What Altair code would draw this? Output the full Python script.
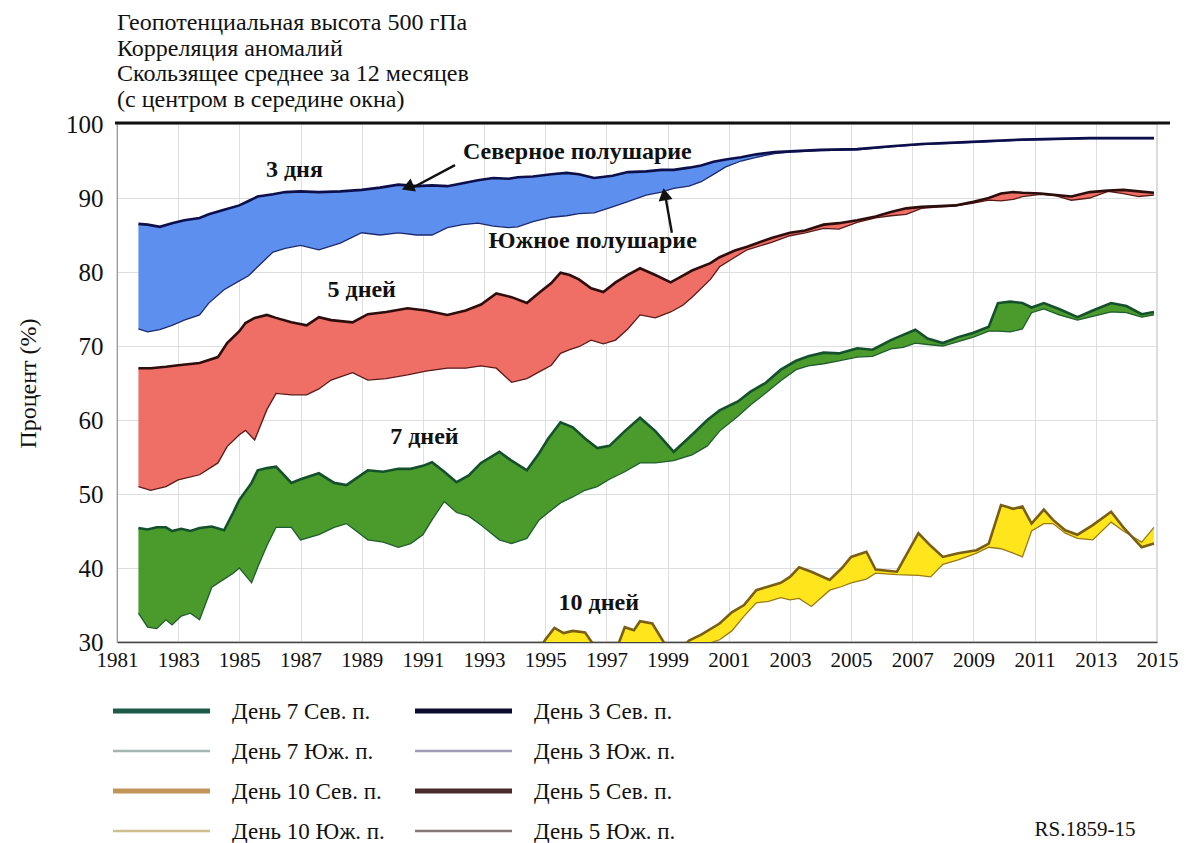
import altair as alt
import pandas as pd

# ---------------- data ----------------
years3 = [1981.7, 1982.0, 1982.4, 1982.8, 1983.2, 1983.7, 1984.0, 1984.5, 1985.0, 1985.3,
          1985.6, 1986.1, 1986.5, 1987.0, 1987.6, 1988.3, 1989.0, 1989.6, 1990.2, 1990.8,
          1991.3, 1991.8, 1992.3, 1992.8, 1993.3, 1993.8, 1994.1, 1994.6, 1995.2, 1995.7,
          1996.1, 1996.6, 1997.2, 1997.7, 1998.3, 1998.8, 1999.2, 1999.7, 2000.1, 2000.5,
          2000.9, 2001.4, 2001.9, 2002.5, 2003.0, 2004.0, 2005.2, 2006.3, 2007.3, 2008.4,
          2009.5, 2010.6, 2011.7, 2012.8, 2013.9, 2014.9]
nh3 = [86.5, 86.4, 86.1, 86.6, 87.0, 87.3, 87.8, 88.4, 89.0, 89.6,
       90.2, 90.5, 90.8, 90.9, 90.8, 90.9, 91.1, 91.4, 91.8, 91.6,
       91.7, 91.6, 92.0, 92.4, 92.7, 92.6, 92.8, 92.9, 93.2, 93.4,
       93.2, 92.7, 93.0, 93.5, 93.6, 93.8, 93.8, 94.1, 94.4, 94.9,
       95.2, 95.5, 95.9, 96.2, 96.3, 96.5, 96.6, 97.0, 97.3, 97.5,
       97.7, 97.9, 98.0, 98.1, 98.1, 98.1]
sh3 = [72.3, 71.9, 72.2, 72.8, 73.5, 74.2, 75.8, 77.6, 78.8, 79.5,
       80.7, 82.7, 83.2, 83.6, 83.0, 83.9, 85.3, 85.0, 85.3, 85.0,
       85.0, 86.0, 86.4, 86.6, 86.2, 86.0, 86.1, 86.8, 87.4, 87.6,
       87.9, 88.0, 88.8, 89.5, 90.4, 90.8, 91.3, 91.6, 92.2, 93.2,
       94.2, 95.0, 95.5, 96.0, 96.2, 96.4, 96.5, 96.9, 97.2, 97.4,
       97.6, 97.8, 97.9, 98.0, 98.0, 98.0]

years5 = [1981.7, 1982.1, 1982.6, 1983.0, 1983.7, 1984.3, 1984.6, 1985.0, 1985.2, 1985.5,
          1985.9, 1986.2, 1986.7, 1987.2, 1987.6, 1988.0, 1988.7, 1989.2, 1989.8, 1990.5,
          1991.1, 1991.8, 1992.4, 1992.9, 1993.4, 1993.9, 1994.4, 1994.8, 1995.2, 1995.5,
          1995.8, 1996.1, 1996.5, 1996.9, 1997.3, 1997.7, 1998.1, 1998.6, 1999.1, 1999.5,
          1999.8, 2000.4, 2000.7, 2001.2, 2001.6, 2002.4, 2003.0, 2003.5, 2004.1, 2004.6,
          2005.2, 2005.8, 2006.3, 2006.8, 2007.3, 2007.9, 2008.4, 2009.0, 2009.5, 2009.9,
          2010.3, 2010.6, 2011.2, 2011.7, 2012.2, 2012.8, 2013.4, 2013.9, 2014.4, 2014.9]
nh5 = [67.0, 67.0, 67.2, 67.4, 67.7, 68.5, 70.4, 72.0, 73.1, 73.8,
       74.2, 73.8, 73.2, 72.8, 73.9, 73.5, 73.2, 74.3, 74.6, 75.1,
       74.8, 74.2, 74.8, 75.6, 77.1, 76.6, 75.8, 77.2, 78.5, 79.9,
       79.6, 79.0, 77.8, 77.3, 78.6, 79.6, 80.5, 79.6, 78.6, 79.5,
       80.2, 81.2, 82.0, 82.9, 83.4, 84.6, 85.3, 85.6, 86.4, 86.6,
       87.0, 87.5, 88.1, 88.6, 88.8, 88.9, 89.0, 89.5, 90.0, 90.6,
       90.8, 90.7, 90.6, 90.4, 90.2, 90.8, 91.0, 91.1, 90.9, 90.7]
sh5 = [51.0, 50.5, 51.0, 51.9, 52.6, 54.2, 56.4, 58.0, 58.6, 57.3,
       61.4, 63.6, 63.4, 63.4, 64.2, 65.4, 66.4, 65.4, 65.6, 66.1,
       66.6, 67.0, 67.0, 67.3, 67.0, 65.1, 65.6, 66.5, 67.4, 69.0,
       69.5, 69.9, 70.8, 70.3, 70.8, 72.3, 74.2, 73.8, 74.6, 75.5,
       76.6, 79.0, 80.7, 82.0, 83.0, 84.0, 84.9, 85.3, 85.9, 85.8,
       86.7, 87.3, 87.6, 87.8, 88.6, 88.8, 88.9, 89.3, 89.7, 89.6,
       89.8, 90.2, 90.5, 90.3, 89.7, 90.0, 90.9, 90.6, 90.2, 90.4]

years7 = [1981.7, 1982.0, 1982.3, 1982.6, 1982.8, 1983.1, 1983.4, 1983.7, 1984.1, 1984.5,
          1984.8, 1985.0, 1985.4, 1985.6, 1985.9, 1986.2, 1986.7, 1987.0, 1987.6, 1988.1,
          1988.5, 1989.2, 1989.7, 1990.2, 1990.6, 1991.0, 1991.3, 1991.7, 1992.1, 1992.5,
          1992.9, 1993.5, 1993.9, 1994.4, 1994.8, 1995.1, 1995.5, 1995.9, 1996.3, 1996.7,
          1997.1, 1997.6, 1998.1, 1998.6, 1999.2, 1999.8, 2000.3, 2000.7, 2001.3, 2001.7,
          2002.2, 2002.7, 2003.2, 2003.6, 2004.1, 2004.6, 2005.2, 2005.7, 2006.3, 2006.7,
          2007.1, 2007.5, 2008.0, 2008.5, 2009.0, 2009.5, 2009.8, 2010.2, 2010.6, 2010.9,
          2011.3, 2011.8, 2012.4, 2012.9, 2013.5, 2014.0, 2014.5, 2014.9]
nh7 = [45.4, 45.2, 45.5, 45.5, 45.0, 45.3, 45.0, 45.4, 45.6, 45.1,
       47.5, 49.2, 51.5, 53.2, 53.5, 53.7, 51.5, 52.0, 52.8, 51.5,
       51.2, 53.2, 53.0, 53.4, 53.4, 53.8, 54.3, 53.0, 51.6, 52.5,
       54.2, 55.7, 54.5, 53.2, 55.5, 57.5, 59.7, 59.0, 57.5, 56.2,
       56.5, 58.5, 60.3, 58.5, 55.7, 58.0, 60.0, 61.3, 62.5, 63.8,
       65.0, 66.8, 68.0, 68.6, 69.1, 69.0, 69.7, 69.5, 70.8, 71.5,
       72.2, 71.0, 70.4, 71.2, 71.8, 72.6, 75.8, 76.0, 75.8, 75.2,
       75.8, 75.0, 73.9, 74.8, 75.8, 75.4, 74.3, 74.6]
sh7 = [33.9, 32.0, 31.8, 33.0, 32.3, 33.5, 33.9, 33.0, 37.4, 38.5,
       39.3, 40.0, 38.0, 40.1, 43.0, 45.5, 45.5, 43.8, 44.5, 45.5,
       46.0, 43.8, 43.5, 42.8, 43.3, 44.5, 46.5, 49.0, 47.5, 47.0,
       45.8, 43.8, 43.3, 44.0, 46.5, 47.5, 48.8, 49.6, 50.5, 51.0,
       52.0, 53.0, 54.2, 54.2, 54.5, 55.3, 56.5, 58.5, 60.5, 62.0,
       63.6, 65.3, 66.8, 67.3, 67.6, 68.0, 68.5, 68.6, 69.6, 69.8,
       70.4, 70.2, 70.0, 70.6, 71.2, 72.0, 72.0, 71.9, 72.3, 74.5,
       75.0, 74.2, 73.5, 74.0, 74.6, 74.5, 73.9, 74.2]

years10 = [1994.8, 1995.0, 1995.3, 1995.6, 1995.9, 1996.3, 1996.6, 1997.0, 1997.4, 1997.6,
           1997.9, 1998.1, 1998.5, 1998.9, 1999.3, 1999.7, 2000.1, 2000.7, 2001.1, 2001.5,
           2001.9, 2002.3, 2002.7, 2003.0, 2003.3, 2003.7, 2004.3, 2004.7, 2005.0, 2005.5,
           2005.8, 2006.5, 2007.2, 2007.6, 2008.0, 2008.5, 2009.1, 2009.5, 2009.9, 2010.3,
           2010.6, 2010.9, 2011.3, 2011.6, 2012.0, 2012.4, 2012.9, 2013.5, 2013.9, 2014.5,
           2014.9]
nh10 = [29.0, 30.3, 31.9, 31.2, 31.5, 31.3, 29.5, 28.5, 29.8, 32.0,
        31.6, 32.8, 32.5, 29.8, 28.5, 30.2, 31.0, 32.5, 34.0, 35.0,
        37.0, 37.5, 38.0, 38.8, 40.1, 39.5, 38.4, 40.0, 41.5, 42.2,
        39.8, 39.5, 44.7, 43.0, 41.5, 42.0, 42.4, 43.3, 48.5, 48.0,
        48.3, 46.0, 47.9, 46.5, 45.1, 44.5, 45.8, 47.6, 45.5, 42.8,
        43.3]
sh10 = [27.0, 28.0, 28.5, 28.3, 28.0, 28.2, 27.5, 27.0, 28.0, 29.0,
        29.5, 29.3, 29.0, 28.0, 27.0, 28.5, 29.5, 30.3, 31.5, 33.5,
        35.3, 35.5, 36.0, 35.7, 35.9, 34.8, 37.0, 37.5, 38.0, 38.5,
        39.3, 39.1, 39.0, 38.8, 40.5, 41.1, 42.0, 42.8, 42.6, 42.0,
        41.5, 45.0, 46.0, 46.0, 44.7, 44.0, 43.8, 46.2, 45.0, 43.5,
        45.5]

year_ticks = list(range(1981, 2016, 2))
pct_ticks = list(range(30, 101, 10))

legend_labels = ["День 7 Сев. п.", "День  7 Юж. п.", "День  10 Сев. п.", "День 10 Юж. п.",
                 "День  3 Сев. п.", "День  3 Юж. п.", "День  5 Сев. п.", "День  5 Юж. п."]

# ---------------- styling ----------------
FONT = "Liberation Serif"
W, H = 1040, 518

xscale = alt.Scale(domain=[1981, 2015], nice=False, zero=False)
yscale = alt.Scale(domain=[30, 100], nice=False, zero=False)
xaxis = alt.Axis(values=year_ticks, format="d", title=None, grid=True, ticks=False,
                 labelFontSize=21, labelPadding=7, labelFont=FONT, labelColor="#111",
                 domainColor="#444", domainWidth=1.5, gridColor="#dedede", labelFlush=False)
yaxis = alt.Axis(values=pct_ticks, title="Процент (%)", grid=True, ticks=False,
                 labelFontSize=25, labelPadding=14, labelFont=FONT, labelColor="#111",
                 titleFont=FONT, titleFontSize=24, titleFontWeight="normal", titleColor="#111",
                 titlePadding=25, domainColor="#999", gridColor="#dedede")


def X(field="year"):
    return alt.X(f"{field}:Q", scale=xscale, axis=xaxis)


def Y(field):
    return alt.Y(f"{field}:Q", scale=yscale, axis=yaxis)


series = [
    (years3, nh3, sh3, "#5d90ee", "#0c0f4a", "#1c2a70", False),
    (years5, nh5, sh5, "#ef6f66", "#2e0d0d", "#5a1a18", False),
    (years7, nh7, sh7, "#4b9a2c", "#14502c", "#1f5e2e", False),
    (years10, nh10, sh10, "#ffe61c", "#7a5e14", "#9a7a18", True),
]

layers = []
for yrs, nh, sh, fill, cnh, csh, clip in series:
    df = pd.DataFrame({"year": yrs, "nh": nh, "sh": sh})
    base = alt.Chart(df)
    layers.append(base.mark_area(color=fill, opacity=1, clip=clip, interpolate="linear")
                  .encode(x=X(), y=Y("nh"), y2="sh:Q"))
    layers.append(base.mark_line(color=csh, strokeWidth=1.3, clip=clip)
                  .encode(x=X(), y=Y("sh")))
    layers.append(base.mark_line(color=cnh, strokeWidth=2.6, clip=clip)
                  .encode(x=X(), y=Y("nh")))

# annotations in data coordinates
ann = pd.DataFrame({
    "year": [1986.8, 1996.05, 1996.55, 1989.0, 1991.05, 1996.75],
    "val": [93.8, 96.2, 84.2, 77.6, 57.7, 35.3],
    "txt": ["3 дня", "Северное полушарие", "Южное полушарие", "5 дней", "7 дней", "10 дней"],
})
layers.append(alt.Chart(ann).mark_text(font=FONT, fontSize=24, fontWeight="bold", color="#111",
                                       align="center", baseline="middle")
              .encode(x=X(), y=Y("val"), text="txt:N"))

arrows = pd.DataFrame({
    "year": [1992.05, 1999.14], "val": [94.45, 85.3],
    "year2": [1990.6, 1998.92], "val2": [91.25, 90.4],
    "hx": [1990.5, 1998.9], "hy": [91.45, 90.5], "ang": [248, 350],
})
layers.append(alt.Chart(arrows).mark_rule(color="#111", strokeWidth=2.4)
              .encode(x=X(), y=Y("val"), x2="year2:Q", y2="val2:Q"))
layers.append(alt.Chart(arrows).mark_point(shape="triangle-up", filled=True, color="#111",
                                           opacity=1, size=200)
              .encode(x=X("hx"), y=Y("hy"), angle=alt.Angle("ang:Q", scale=None)))

one = alt.Data(values=[{"k": 1}])

# top frame line
layers.append(alt.Chart(one).mark_rule(color="#111", strokeWidth=3)
              .encode(x=alt.value(-2), x2=alt.value(W + 13), y=alt.value(-1)))

# title lines
layers.append(alt.Chart(one).mark_text(font=FONT, fontSize=24, color="#111", align="left",
                                       baseline="alphabetic", lineHeight=25.7)
              .encode(x=alt.value(0), y=alt.value(-94),
                      text=alt.value(["Геопотенциальная высота 500 гПа",
                                      "Корреляция аномалий",
                                      "Скользящее среднее за 12 месяцев",
                                      "(с центром в середине окна)"])))

# legend
leg_colors = ["#1d5b48", "#a3b6b2", "#c4955a", "#cdbf90",
              "#0b0b2e", "#9f9db6", "#4a2a2a", "#877676"]
leg_widths = [5, 2.5, 5, 2.5, 5, 2.5, 5, 2.5]
for i, lab in enumerate(legend_labels):
    col, row = divmod(i, 4)
    x0 = -4 + col * 302
    yy = 587 + row * 40
    layers.append(alt.Chart(one).mark_rule(color=leg_colors[i], strokeWidth=leg_widths[i])
                  .encode(x=alt.value(x0), x2=alt.value(x0 + 97), y=alt.value(yy)))
    layers.append(alt.Chart(one).mark_text(font=FONT, fontSize=23, color="#111", align="left",
                                           baseline="middle")
                  .encode(x=alt.value(x0 + 119), y=alt.value(yy + 1), text=alt.value(lab)))

layers.append(alt.Chart(one).mark_text(font=FONT, fontSize=21, color="#111", align="center",
                                       baseline="middle")
              .encode(x=alt.value(968), y=alt.value(706), text=alt.value("RS.1859-15")))

chart = alt.layer(*layers).properties(
    width=W, height=H,
    autosize=alt.AutoSizeParams(type="none"),
    padding={"left": 117, "top": 124, "right": 29, "bottom": 201},
    background="white",
).configure_view(stroke="#cfcfcf", strokeWidth=1.5)

chart.save("out.html", embed_options={"renderer": "svg", "actions": False})
